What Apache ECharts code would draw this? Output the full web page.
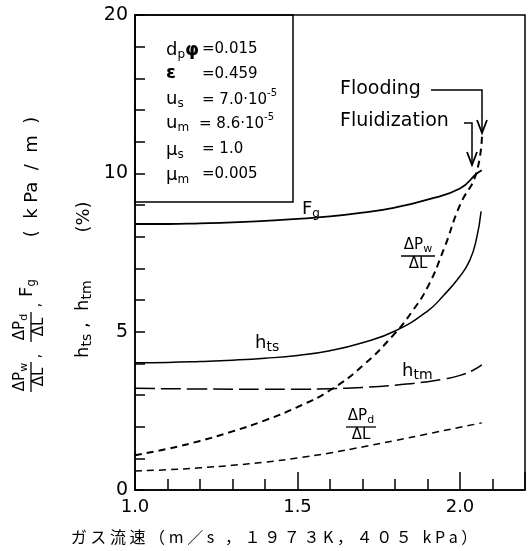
<!DOCTYPE html>
<html><head><meta charset="utf-8">
<script src="https://cdn.jsdelivr.net/npm/echarts@6/dist/echarts.min.js"></script>
<style>html,body{margin:0;padding:0;background:#fff}#c{width:531px;height:551px}</style>
</head><body><div id="c"></div>
<script>
const xFg  = [1.0, 1.1, 1.2, 1.3, 1.4, 1.5, 1.6, 1.7, 1.8, 1.9, 2.0, 2.05, 2.067];
const yFg  = [8.4, 8.4, 8.42, 8.45, 8.5, 8.56, 8.64, 8.76, 8.92, 9.17, 9.52, 9.98, 10.2];
const xHts = [1.0, 1.1, 1.2, 1.3, 1.4, 1.5, 1.6, 1.7, 1.8, 1.9, 1.95, 2.0, 2.03, 2.05, 2.065];
const yHts = [4.02, 4.03, 4.06, 4.1, 4.16, 4.25, 4.4, 4.65, 5.02, 5.65, 6.15, 6.75, 7.25, 7.9, 8.8];
const xPw  = [1.0, 1.1, 1.2, 1.3, 1.4, 1.5, 1.6, 1.7, 1.8, 1.85, 1.9, 1.95, 2.0, 2.05, 2.068];
const yPw  = [1.1, 1.3, 1.55, 1.85, 2.2, 2.62, 3.15, 3.92, 4.95, 5.6, 6.4, 7.6, 9.0, 10.0, 12.6];
const xHtm = [1.0, 1.2, 1.4, 1.5, 1.6, 1.7, 1.8, 1.9, 1.95, 2.0, 2.04, 2.067];
const yHtm = [3.21, 3.19, 3.18, 3.18, 3.2, 3.24, 3.31, 3.42, 3.5, 3.62, 3.78, 3.95];
const xPd  = [1.0, 1.1, 1.2, 1.3, 1.4, 1.5, 1.6, 1.7, 1.8, 1.9, 2.0, 2.067];
const yPd  = [0.6, 0.64, 0.7, 0.78, 0.88, 1.01, 1.17, 1.36, 1.56, 1.77, 1.98, 2.12];
const xTickLabels = ['1.0', '1.5', '2.0'];
// axis position -> label (upper part of the axis is compressed 2:1 above 10)
const yTickLabels = {0: '0', 5: '5', 10: '10', 15: '20'};

function toAxis(v) { return v <= 10 ? v : 10 + (v - 10) / 2; }
function pts(xs, vs) { return xs.map((x, i) => [x, toAxis(vs[i])]); }

const F = 'DejaVu Sans';
const chart = echarts.init(document.getElementById('c'), null, {renderer: 'canvas'});

function lineSeries(name, xs, vs, type, width) {
  return {name, type: 'line', data: pts(xs, vs), showSymbol: false, smooth: 0.5,
    lineStyle: {color: '#000', width: width, type: type}, z: 3, silent: true};
}

const R = {
  a: {fontSize: 18, fontFamily: F, fill: '#000', verticalAlign: 'bottom', padding: [0, 0, 2, 0]},
  b: {fontSize: 18, fontFamily: F, fontWeight: 'bold', fill: '#000', verticalAlign: 'bottom', padding: [0, 0, 2, 0]},
  s: {fontSize: 12, fontFamily: F, fill: '#000', verticalAlign: 'bottom'},
  v: {fontSize: 15, fontFamily: F, fill: '#000', verticalAlign: 'bottom', padding: [0, 0, 2, 0]},
  p: {fontSize: 10, fontFamily: F, fill: '#000', verticalAlign: 'bottom', padding: [0, 0, 11, 0]},
  f: {fontSize: 15, fontFamily: F, fill: '#000', verticalAlign: 'bottom', padding: [0, 0, 2, 0]},
  fs: {fontSize: 11, fontFamily: F, fill: '#000', verticalAlign: 'bottom'},
  h: {fontSize: 18, fontFamily: F, fill: '#000', verticalAlign: 'bottom', padding: [0, 0, 2, 0]},
  hs: {fontSize: 14, fontFamily: F, fill: '#000', verticalAlign: 'bottom'}
};

function txt(x, y, text, align, vAlign, extra) {
  return Object.assign({type: 'text', x, y, z: 10, style: {text, rich: R, fill: '#000', fontFamily: F, fontSize: 15,
    align: align || 'left', verticalAlign: vAlign || 'middle'}}, extra || {});
}
function plain(x, y, text, size, align) {
  return {type: 'text', x, y, z: 10, style: {text, fontFamily: F, fontSize: size, fill: '#000', align: align || 'left', verticalAlign: 'middle'}};
}
function frac(cx, cy, num, den, w) {
  return [
    txt(cx, cy - 1, num, 'center', 'bottom'),
    {type: 'line', z: 10, shape: {x1: cx - w / 2, y1: cy, x2: cx + w / 2, y2: cy}, style: {stroke: '#000', lineWidth: 1.3}},
    txt(cx, cy + 1, den, 'center', 'top')
  ];
}

const xt = 'ガス流速（m／s ，１９７３K，４０５ kPa）';
const xtRich = Array.from(xt).map(c => '{c|' + c + '}').join('');

const graphic = [
  // inset parameter box
  {type: 'rect', z: 5, shape: {x: 135, y: 15, width: 158, height: 187}, style: {fill: null, stroke: '#000', lineWidth: 1.5}},
  txt(166, 51, '{a|d}{s|p}{b|φ}'),
  txt(202, 50, '{v|=0.015}'),
  txt(166, 74, '{b|ε}'),
  txt(202, 75, '{v|=0.459}'),
  txt(166, 100, '{a|u}{s|s}'),
  txt(202, 99, '{v|= 7.0·10}{p|-5}'),
  txt(166, 124, '{a|u}{s|m}'),
  txt(199, 123, '{v|= 8.6·10}{p|-5}'),
  txt(166, 151, '{a|μ}{s|s}'),
  txt(202, 150, '{v|= 1.0}'),
  txt(166, 176, '{a|μ}{s|m}'),
  txt(202, 175, '{v|=0.005}'),
  // curve labels
  txt(302, 210, '{a|F}{s|g}'),
  ...frac(418, 256, '{f|ΔP}{fs|w}', '{f|ΔL}', 34),
  txt(255, 344, '{h|h}{hs|ts}'),
  txt(402, 372, '{h|h}{hs|tm}'),
  ...frac(361, 427, '{f|ΔP}{fs|d}', '{f|ΔL}', 30),
  // Flooding / Fluidization
  plain(340, 89, 'Flooding', 19),
  plain(340, 121, 'Fluidization', 19),
  {type: 'polyline', z: 10, shape: {points: [[431, 90], [482, 90], [482, 132]]}, style: {stroke: '#000', lineWidth: 1.5, fill: null}},
  {type: 'polyline', z: 10, shape: {points: [[477, 120], [482, 133], [487, 120]]}, style: {stroke: '#000', lineWidth: 1.8, fill: null}},
  {type: 'polyline', z: 10, shape: {points: [[464, 123], [472, 123], [472, 164]]}, style: {stroke: '#000', lineWidth: 1.5, fill: null}},
  {type: 'polyline', z: 10, shape: {points: [[467, 152], [472, 165], [477, 152]]}, style: {stroke: '#000', lineWidth: 1.8, fill: null}},
  // y-axis titles (rotated)
  {type: 'group', x: 31, y: 393, rotation: Math.PI / 2, children: [
    ...frac(16, 0, '{f|ΔP}{fs|w}', '{f|ΔL}', 30),
    txt(37, 6, '{f|,}', 'center', 'middle'),
    ...frac(66, 0, '{f|ΔP}{fs|d}', '{f|ΔL}', 30),
    txt(88, 6, '{f|,}', 'center', 'middle'),
    txt(96, -3, '{a|F}{s|g}'),
    plain(216, 1, '(  k Pa  /  m  )', 18, 'center')
  ]},
  {type: 'group', x: 84, y: 358, rotation: Math.PI / 2, children: [
    txt(0, 0, '{h|h}{hs|ts}{h| ,  h}{hs|tm}'),
    plain(141, 0, '(%)', 18, 'center')
  ]},
  // x-axis title
  {type: 'text', x: 274, y: 537, z: 10, style: {text: xtRich, align: 'center', verticalAlign: 'middle',
    rich: {c: {fontSize: 16, fontFamily: 'Noto Sans CJK JP', fill: '#000', padding: [0, 1.8, 0, 1.8]}}}}
];

chart.setOption({
  animation: false,
  grid: {left: 135, right: 6, top: 15, bottom: 61, show: true, borderColor: '#000', borderWidth: 1.5},
  xAxis: [
    {type: 'value', min: 1.0, max: 2.2, interval: 0.1, position: 'bottom',
      axisLine: {lineStyle: {color: '#000', width: 1.5}},
      axisTick: {inside: true, length: 11, lineStyle: {color: '#000', width: 1.5}},
      splitLine: {show: false},
      axisLabel: {margin: 8, color: '#000', fontSize: 18, fontFamily: F,
        formatter: v => { const r = (Math.round(v * 10) / 10).toFixed(1); return xTickLabels.indexOf(r) >= 0 ? r : ''; }}},
    {type: 'value', min: 1.0, max: 2.2, interval: 0.5, position: 'bottom',
      axisLine: {show: false}, axisLabel: {show: false}, splitLine: {show: false},
      axisTick: {inside: true, length: 18, lineStyle: {color: '#000', width: 1.5}}}
  ],
  yAxis: [{type: 'value', min: 0, max: 15, interval: 1,
    axisLine: {show: true, lineStyle: {color: '#000', width: 1.5}},
    axisTick: {show: true, inside: true, length: 10, lineStyle: {color: '#000', width: 1.5}},
    splitLine: {show: false},
    axisLabel: {margin: 7, color: '#000', fontSize: 19, fontFamily: F,
      formatter: v => yTickLabels[Math.round(v)] !== undefined && Math.abs(v - Math.round(v)) < 1e-6 ? yTickLabels[Math.round(v)] : ''}}],
  series: [
    lineSeries('Fg', xFg, yFg, 'solid', 1.8),
    lineSeries('hts', xHts, yHts, 'solid', 1.5),
    lineSeries('dPw', xPw, yPw, [7, 5], 2),
    lineSeries('htm', xHtm, yHtm, [20, 6], 1.5),
    lineSeries('dPd', xPd, yPd, [7, 5], 1.5)
  ],
  graphic: graphic
});
</script></body></html>
